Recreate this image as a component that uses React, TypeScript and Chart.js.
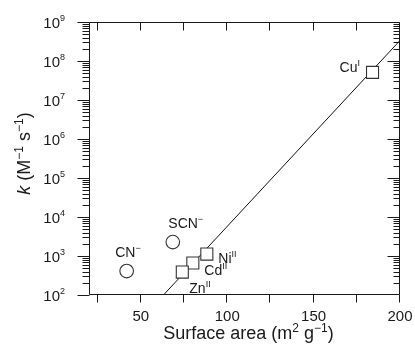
import React, { useEffect, useRef } from "react";
import { Chart, registerables } from "chart.js";

Chart.register(...registerables);

// ---- data ----
const pointNames = ["Cu", "Ni", "Cd", "Zn", "SCN", "CN"];
const pointSups = ["I", "II", "II", "II", "\u2212", "\u2212"];
const surfaceArea = [184.1, 88.2, 80.1, 74.0, 68.5, 41.8];
const rateK = [5.1e7, 1120, 659, 387, 2270, 411];
const pointShapes = ["rect", "rect", "rect", "rect", "circle", "circle"];

const fitX = [63.1, 200];
const fitY = [100, 3.36e8];

const xTicks = [25, 50, 75, 100, 125, 150, 175, 200];
const xTickLabels = ["", "50", "", "100", "", "150", "", "200"];
const yExponents = [2, 3, 4, 5, 6, 7, 8, 9];

// ---- styling (not data) ----
const FONT = "'Liberation Sans', Arial, Helvetica, sans-serif";
const INK = "#1a1a1a";
const labelOffsets: [number, number][] = [
  [-33, 0],
  [11.5, 9],
  [11.5, 12],
  [7, 21],
  [-4.5, -14],
  [-11.5, -14],
];

function drawSupText(
  ctx: CanvasRenderingContext2D,
  parts: { t: string; sup?: boolean; italic?: boolean }[],
  x: number,
  y: number,
  size: number,
  supSize: number,
  supRise: number,
  align: "left" | "right" | "center"
) {
  const fontFor = (p: { sup?: boolean; italic?: boolean }) =>
    `${p.italic ? "italic " : ""}${p.sup ? supSize : size}px ${FONT}`;
  let total = 0;
  const widths = parts.map((p) => {
    ctx.font = fontFor(p);
    const w = ctx.measureText(p.t).width;
    total += w;
    return w;
  });
  let cx = align === "left" ? x : align === "right" ? x - total : x - total / 2;
  ctx.textAlign = "left";
  ctx.textBaseline = "alphabetic";
  parts.forEach((p, i) => {
    ctx.font = fontFor(p);
    ctx.fillText(p.t, cx, p.sup ? y - supRise : y);
    cx += widths[i];
  });
}

const framePlugin = {
  id: "frame",
  afterDraw(chart: any) {
    const { ctx, chartArea: a, scales } = chart;
    const xs = scales.x;
    const ys = scales.y;
    ctx.save();
    ctx.strokeStyle = INK;
    ctx.fillStyle = INK;
    ctx.lineWidth = 1;
    const L = Math.round(a.left) + 0.5;
    const R = Math.round(a.right) - 0.5;
    const T = Math.round(a.top) + 0.5;
    const B = Math.round(a.bottom) - 0.5;
    ctx.beginPath();
    ctx.rect(L, T, R - L, B - T);
    ctx.stroke();

    ctx.beginPath();
    // x ticks
    xTicks.forEach((v) => {
      const px = Math.round(xs.getPixelForValue(v)) - 0.5;
      ctx.moveTo(px, B);
      ctx.lineTo(px, B + 8);
      ctx.moveTo(px, T);
      ctx.lineTo(px, T + 8);
    });
    // y ticks
    yExponents.forEach((e, i) => {
      const py = Math.round(ys.getPixelForValue(Math.pow(10, e))) + 0.5;
      ctx.moveTo(L, py);
      ctx.lineTo(L - 12, py);
      if (i > 0 && i < yExponents.length - 1) {
        ctx.moveTo(R, py);
        ctx.lineTo(R - 12, py);
      }
      if (i < yExponents.length - 1) {
        for (let m = 2; m <= 9; m++) {
          const my = Math.round(ys.getPixelForValue(m * Math.pow(10, e))) + 0.5;
          ctx.moveTo(L, my);
          ctx.lineTo(L - 7, my);
          ctx.moveTo(R, my);
          ctx.lineTo(R - 6, my);
        }
      }
    });
    ctx.stroke();

    // x tick labels
    ctx.font = `15px ${FONT}`;
    ctx.textAlign = "center";
    ctx.textBaseline = "alphabetic";
    xTicks.forEach((v, i) => {
      if (!xTickLabels[i]) return;
      ctx.fillText(xTickLabels[i], xs.getPixelForValue(v), B + 26);
    });

    // y tick labels
    yExponents.forEach((e) => {
      const py = ys.getPixelForValue(Math.pow(10, e));
      drawSupText(
        ctx,
        [{ t: "10" }, { t: String(e), sup: true }],
        a.left - 24,
        py + 5.5,
        15,
        9,
        7,
        "right"
      );
    });

    // axis titles
    drawSupText(
      ctx,
      [
        { t: "Surface area (m" },
        { t: "2", sup: true },
        { t: " g" },
        { t: "\u22121", sup: true },
        { t: ")" },
      ],
      (a.left + a.right) / 2 + 4,
      339,
      18,
      12,
      7,
      "center"
    );
    ctx.save();
    ctx.translate(30, (a.top + a.bottom) / 2 - 5);
    ctx.rotate(-Math.PI / 2);
    drawSupText(
      ctx,
      [
        { t: "k", italic: true },
        { t: " (M" },
        { t: "\u22121", sup: true },
        { t: " s" },
        { t: "\u22121", sup: true },
        { t: ")" },
      ],
      0,
      0,
      18,
      12,
      7,
      "center"
    );
    ctx.restore();

    // point labels
    pointNames.forEach((name, i) => {
      const px = xs.getPixelForValue(surfaceArea[i]);
      const py = ys.getPixelForValue(rateK[i]);
      const [dx, dy] = labelOffsets[i];
      drawSupText(
        ctx,
        [{ t: name }, { t: pointSups[i], sup: true }],
        px + dx,
        py + dy,
        14,
        9,
        6,
        "left"
      );
    });
    ctx.restore();
  },
};

export default function App() {
  const ref = useRef<HTMLCanvasElement | null>(null);
  useEffect(() => {
    if (!ref.current) return;
    const chart = new Chart(ref.current, {
      type: "scatter",
      data: {
        datasets: [
          {
            label: "samples",
            data: surfaceArea.map((x, i) => ({ x, y: rateK[i] })),
            pointStyle: pointShapes as any,
            pointRadius: pointShapes.map((s) => (s === "rect" ? 8.5 : 6.8)),
            pointBackgroundColor: "#ffffff",
            pointBorderColor: "#333333",
            pointBorderWidth: 1.1,
            showLine: false,
            order: 0,
          },
          {
            label: "fit",
            data: fitX.map((x, i) => ({ x, y: fitY[i] })),
            showLine: true,
            borderColor: "#111111",
            borderWidth: 1,
            pointRadius: 0,
            order: 2,
          },
        ],
      },
      options: {
        animation: false,
        responsive: false,
        devicePixelRatio: 1,
        layout: { padding: { left: 89, right: 15, top: 22, bottom: 66 } },
        plugins: { legend: { display: false }, tooltip: { enabled: false } },
        scales: {
          x: { type: "linear", min: 20, max: 200, display: false },
          y: { type: "logarithmic", min: 100, max: 1e9, display: false },
        },
      },
      plugins: [framePlugin],
    });
    return () => chart.destroy();
  }, []);
  return (
    <div style={{ position: "absolute", left: 0, top: 0, width: 415, height: 361, background: "#fff" }}>
      <canvas ref={ref} width={415} height={361} />
    </div>
  );
}
